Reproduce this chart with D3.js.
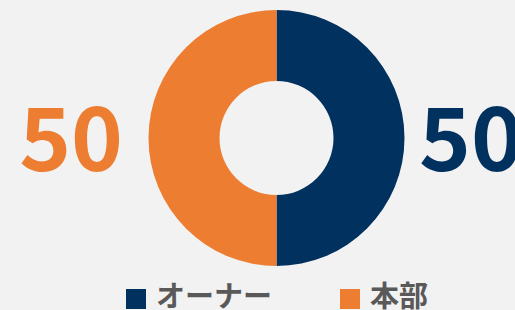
<!DOCTYPE html>
<html>
<head>
<meta charset="utf-8">
<script src="https://cdn.jsdelivr.net/npm/d3@7"></script>
<style>
  html, body { margin: 0; padding: 0; background: #f2f2f2; }
  svg { display: block; }
</style>
</head>
<body>
<script>
// chart data
const categories = ['オーナー', '本部'];
const values = [50, 50];
const colors = ['#00315f', '#ed7d31'];

const width = 515;
const height = 310;
const cx = 276.5;
const cy = 138;
const outerR = 128;
const innerR = 57;

const svg = d3.select('body').append('svg')
   .attr('width', width)
   .attr('height', height)
   .style('font-family', '"Noto Sans CJK JP", "Noto Sans", sans-serif');

svg.append('rect')
   .attr('width', width)
   .attr('height', height)
   .attr('fill', '#f2f2f2');

const color = d3.scaleOrdinal().domain(categories).range(colors);

const pie = d3.pie().sort(null).value((d, i) => values[i]);
const arc = d3.arc().innerRadius(innerR).outerRadius(outerR);

const g = svg.append('g').attr('transform', 'translate(' + cx + ',' + cy + ')');

g.selectAll('path')
   .data(pie(categories))
   .enter()
   .append('path')
   .attr('d', arc)
   .attr('fill', d => color(d.data));

// big value labels: first slice on the right, second on the left
const labelPos = [
   {x: 419, anchor: 'start'},
   {x: 123, anchor: 'end'}
];
svg.selectAll('text.value')
   .data(categories)
   .enter()
   .append('text')
   .attr('class', 'value')
   .attr('x', (d, i) => labelPos[i].x)
   .attr('y', 171)
   .attr('text-anchor', (d, i) => labelPos[i].anchor)
   .attr('fill', d => color(d))
   .style('font-size', '88px')
   .style('font-weight', 700)
   .text((d, i) => values[i]);

// legend
const legendX = [126, 340];
const legend = svg.selectAll('g.legend')
   .data(categories)
   .enter()
   .append('g')
   .attr('class', 'legend')
   .attr('transform', (d, i) => 'translate(' + legendX[i] + ',289)');

legend.append('rect')
   .attr('width', 20)
   .attr('height', 20)
   .attr('fill', d => color(d));

legend.append('text')
   .attr('x', 30)
   .attr('y', 18)
   .attr('fill', '#595959')
   .style('font-size', '29px')
   .style('font-weight', 700)
   .text(d => d);
</script>
</body>
</html>
